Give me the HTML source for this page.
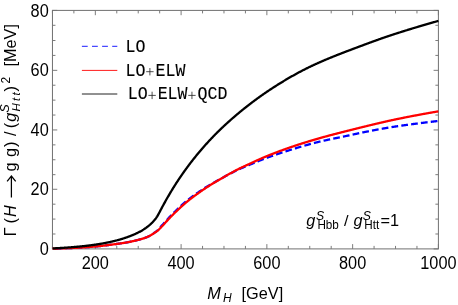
<!DOCTYPE html>
<html><head><meta charset="utf-8"><title>plot</title>
<style>
html,body{margin:0;padding:0;background:#fff;}
body{width:458px;height:305px;overflow:hidden;}
svg{display:block;will-change:transform;}
text{font-family:"Liberation Sans",sans-serif;fill:#000;}
.tl{font-size:15px;}
.mono{font-family:"Liberation Mono",monospace;}
</style></head><body>
<svg width="458" height="305" viewBox="0 0 458 305">
<rect width="458" height="305" fill="#fff"/>
<defs><clipPath id="c"><rect x="52.45" y="10.4" width="387.05" height="240.0"/></clipPath></defs>
<g stroke="#707070" stroke-width="1" fill="none">
<rect x="52.45" y="10.4" width="385.95" height="238.5"/>
</g>
<g stroke="#757575" stroke-width="0.95" fill="none">
<path d="M52.45,248.9 v-3.0 M52.45,10.4 v3.0"/>
<path d="M73.89,248.9 v-3.0 M73.89,10.4 v3.0"/>
<path d="M95.33,248.9 v-4.8 M95.33,10.4 v4.8"/>
<path d="M116.78,248.9 v-3.0 M116.78,10.4 v3.0"/>
<path d="M138.22,248.9 v-3.0 M138.22,10.4 v3.0"/>
<path d="M159.66,248.9 v-3.0 M159.66,10.4 v3.0"/>
<path d="M181.10,248.9 v-4.8 M181.10,10.4 v4.8"/>
<path d="M202.54,248.9 v-3.0 M202.54,10.4 v3.0"/>
<path d="M223.98,248.9 v-3.0 M223.98,10.4 v3.0"/>
<path d="M245.43,248.9 v-3.0 M245.43,10.4 v3.0"/>
<path d="M266.87,248.9 v-4.8 M266.87,10.4 v4.8"/>
<path d="M288.31,248.9 v-3.0 M288.31,10.4 v3.0"/>
<path d="M309.75,248.9 v-3.0 M309.75,10.4 v3.0"/>
<path d="M331.19,248.9 v-3.0 M331.19,10.4 v3.0"/>
<path d="M352.63,248.9 v-4.8 M352.63,10.4 v4.8"/>
<path d="M374.07,248.9 v-3.0 M374.07,10.4 v3.0"/>
<path d="M395.52,248.9 v-3.0 M395.52,10.4 v3.0"/>
<path d="M416.96,248.9 v-3.0 M416.96,10.4 v3.0"/>
<path d="M438.40,248.9 v-4.8 M438.40,10.4 v4.8"/>
<path d="M52.45,248.90 h4.8 M438.4,248.90 h-4.8"/>
<path d="M52.45,233.99 h3.0 M438.4,233.99 h-3.0"/>
<path d="M52.45,219.09 h3.0 M438.4,219.09 h-3.0"/>
<path d="M52.45,204.18 h3.0 M438.4,204.18 h-3.0"/>
<path d="M52.45,189.28 h4.8 M438.4,189.28 h-4.8"/>
<path d="M52.45,174.67 h3.0 M438.4,174.67 h-3.0"/>
<path d="M52.45,159.76 h3.0 M438.4,159.76 h-3.0"/>
<path d="M52.45,144.86 h3.0 M438.4,144.86 h-3.0"/>
<path d="M52.45,129.95 h4.8 M438.4,129.95 h-4.8"/>
<path d="M52.45,115.04 h3.0 M438.4,115.04 h-3.0"/>
<path d="M52.45,100.14 h3.0 M438.4,100.14 h-3.0"/>
<path d="M52.45,85.23 h3.0 M438.4,85.23 h-3.0"/>
<path d="M52.45,70.33 h4.8 M438.4,70.33 h-4.8"/>
<path d="M52.45,55.42 h3.0 M438.4,55.42 h-3.0"/>
<path d="M52.45,40.51 h3.0 M438.4,40.51 h-3.0"/>
<path d="M52.45,25.31 h3.0 M438.4,25.31 h-3.0"/>
<path d="M52.45,10.40 h4.8 M438.4,10.40 h-4.8"/>
</g>
<g clip-path="url(#c)" fill="none" stroke-linejoin="round">
<path d="M52.45,248.60 L52.88,248.60 L53.31,248.59 L53.74,248.58 L54.17,248.57 L54.59,248.56 L55.02,248.55 L55.45,248.54 L55.88,248.53 L56.31,248.52 L56.74,248.51 L57.17,248.50 L57.60,248.49 L58.02,248.48 L58.45,248.47 L58.88,248.46 L59.31,248.44 L59.74,248.43 L60.17,248.42 L60.60,248.41 L61.03,248.40 L61.46,248.38 L61.88,248.37 L62.31,248.36 L62.74,248.34 L63.17,248.33 L63.60,248.32 L64.03,248.30 L64.46,248.29 L64.89,248.27 L65.31,248.26 L65.74,248.25 L66.17,248.23 L66.60,248.22 L67.03,248.20 L67.46,248.18 L67.89,248.17 L68.32,248.15 L68.75,248.13 L69.17,248.12 L69.60,248.10 L70.03,248.08 L70.46,248.07 L70.89,248.05 L71.32,248.03 L71.75,248.01 L72.18,247.99 L72.61,247.97 L73.03,247.96 L73.46,247.94 L73.89,247.92 L74.32,247.90 L74.75,247.88 L75.18,247.86 L75.61,247.83 L76.04,247.81 L76.46,247.79 L76.89,247.77 L77.32,247.75 L77.75,247.73 L78.18,247.70 L78.61,247.68 L79.04,247.66 L79.47,247.63 L79.90,247.61 L80.32,247.58 L80.75,247.56 L81.18,247.53 L81.61,247.51 L82.04,247.48 L82.47,247.46 L82.90,247.43 L83.33,247.40 L83.75,247.38 L84.18,247.35 L84.61,247.32 L85.04,247.29 L85.47,247.26 L85.90,247.23 L86.33,247.21 L86.76,247.18 L87.19,247.15 L87.61,247.11 L88.04,247.08 L88.47,247.05 L88.90,247.02 L89.33,246.99 L89.76,246.96 L90.19,246.92 L90.62,246.89 L91.05,246.86 L91.47,246.82 L91.90,246.79 L92.33,246.75 L92.76,246.72 L93.19,246.68 L93.62,246.64 L94.05,246.61 L94.48,246.57 L94.90,246.53 L95.33,246.49 L95.76,246.45 L96.19,246.41 L96.62,246.37 L97.05,246.33 L97.48,246.29 L97.91,246.25 L98.34,246.21 L98.76,246.17 L99.19,246.12 L99.62,246.08 L100.05,246.04 L100.48,245.99 L100.91,245.95 L101.34,245.90 L101.77,245.85 L102.19,245.81 L102.62,245.76 L103.05,245.71 L103.48,245.66 L103.91,245.61 L104.34,245.56 L104.77,245.51 L105.20,245.46 L105.63,245.41 L106.05,245.36 L106.48,245.30 L106.91,245.25 L107.34,245.20 L107.77,245.14 L108.20,245.09 L108.63,245.03 L109.06,244.97 L109.48,244.91 L109.91,244.86 L110.34,244.80 L110.77,244.74 L111.20,244.68 L111.63,244.62 L112.06,244.56 L112.49,244.51 L112.92,244.45 L113.34,244.39 L113.77,244.34 L114.20,244.28 L114.63,244.22 L115.06,244.17 L115.49,244.11 L115.92,244.05 L116.35,243.99 L116.78,243.94 L117.20,243.88 L117.63,243.82 L118.06,243.76 L118.49,243.70 L118.92,243.64 L119.35,243.58 L119.78,243.52 L120.21,243.46 L120.63,243.40 L121.06,243.34 L121.49,243.27 L121.92,243.21 L122.35,243.15 L122.78,243.08 L123.21,243.01 L123.64,242.94 L124.07,242.88 L124.49,242.81 L124.92,242.73 L125.35,242.66 L125.78,242.59 L126.21,242.51 L126.64,242.43 L127.07,242.36 L127.50,242.28 L127.92,242.19 L128.35,242.11 L128.78,242.03 L129.21,241.94 L129.64,241.86 L130.07,241.77 L130.50,241.68 L130.93,241.59 L131.36,241.50 L131.78,241.41 L132.21,241.32 L132.64,241.22 L133.07,241.13 L133.50,241.03 L133.93,240.93 L134.36,240.84 L134.79,240.74 L135.21,240.63 L135.64,240.53 L136.07,240.43 L136.50,240.32 L136.93,240.21 L137.36,240.11 L137.79,240.00 L138.22,239.88 L138.65,239.77 L139.07,239.66 L139.50,239.55 L139.93,239.44 L140.36,239.33 L140.79,239.22 L141.22,239.10 L141.65,238.97 L142.08,238.84 L142.50,238.71 L142.93,238.58 L143.36,238.44 L143.79,238.30 L144.22,238.15 L144.65,238.00 L145.08,237.85 L145.51,237.69 L145.94,237.52 L146.36,237.34 L146.79,237.16 L147.22,236.97 L147.65,236.78 L148.08,236.59 L148.51,236.38 L148.94,236.18 L149.37,235.96 L149.80,235.74 L150.22,235.51 L150.65,235.27 L151.08,235.03 L151.51,234.77 L151.94,234.50 L152.37,234.22 L152.80,233.93 L153.23,233.63 L153.65,233.32 L154.08,233.00 L154.51,232.69 L154.94,232.38 L155.37,232.07 L155.80,231.76 L156.23,231.42 L156.66,231.09 L157.09,230.74 L157.51,230.37 L157.94,229.96 L158.37,229.52 L158.80,229.04 L159.23,228.55 L159.66,228.05 L160.09,227.55 L160.52,227.05 L160.94,226.55 L161.37,226.07 L161.80,225.61 L162.23,225.16 L162.66,224.71 L163.09,224.25 L163.52,223.78 L163.95,223.30 L164.38,222.81 L164.80,222.32 L165.23,221.83 L165.66,221.34 L166.09,220.86 L166.52,220.38 L166.95,219.90 L167.38,219.42 L167.81,218.95 L168.24,218.48 L168.66,218.02 L169.09,217.56 L169.52,217.10 L169.95,216.65 L170.38,216.20 L170.81,215.76 L171.24,215.31 L171.67,214.87 L172.09,214.44 L172.52,214.00 L172.95,213.57 L173.38,213.14 L173.81,212.71 L174.24,212.29 L174.67,211.87 L175.10,211.45 L175.53,211.04 L175.95,210.62 L176.38,210.21 L176.81,209.80 L177.24,209.39 L177.67,208.98 L178.10,208.58 L178.53,208.17 L178.96,207.76 L179.38,207.36 L179.81,206.96 L180.24,206.56 L180.67,206.16 L181.10,205.76 L181.53,205.36 L181.96,204.97 L182.39,204.59 L182.82,204.20 L183.24,203.82 L183.67,203.45 L184.10,203.08 L184.53,202.71 L184.96,202.35 L185.39,201.99 L185.82,201.64 L186.25,201.28 L186.67,200.93 L187.10,200.59 L187.53,200.24 L187.96,199.90 L188.39,199.56 L188.82,199.22 L189.25,198.89 L189.68,198.55 L190.11,198.22 L190.53,197.90 L190.96,197.57 L191.39,197.25 L191.82,196.93 L192.25,196.61 L192.68,196.30 L193.11,195.99 L193.54,195.68 L193.96,195.37 L194.39,195.06 L194.82,194.76 L195.25,194.46 L195.68,194.16 L196.11,193.86 L196.54,193.56 L196.97,193.27 L197.40,192.97 L197.82,192.68 L198.25,192.38 L198.68,192.09 L199.11,191.80 L199.54,191.50 L199.97,191.21 L200.40,190.92 L200.83,190.63 L201.26,190.34 L201.68,190.05 L202.11,189.76 L202.54,189.47 L202.97,189.18 L203.40,188.90 L203.83,188.61 L204.26,188.33 L204.69,188.06 L205.11,187.78 L205.54,187.51 L205.97,187.24 L206.40,186.97 L206.83,186.70 L207.26,186.44 L207.69,186.17 L208.12,185.91 L208.55,185.65 L208.97,185.39 L209.40,185.13 L209.83,184.88 L210.26,184.62 L210.69,184.37 L211.12,184.12 L211.55,183.87 L211.98,183.62 L212.40,183.38 L212.83,183.13 L213.26,182.88 L213.69,182.64 L214.12,182.40 L214.55,182.16 L214.98,181.92 L215.41,181.68 L215.84,181.44 L216.26,181.20 L216.69,180.96 L217.12,180.72 L217.55,180.49 L217.98,180.25 L218.41,180.02 L218.84,179.78 L219.27,179.55 L219.69,179.31 L220.12,179.08 L220.55,178.85 L220.98,178.61 L221.41,178.38 L221.84,178.15 L222.27,177.91 L222.70,177.68 L223.13,177.45 L223.55,177.21 L223.98,176.98 L224.41,176.74 L224.84,176.51 L225.27,176.28 L225.70,176.04 L226.13,175.81 L226.56,175.58 L226.99,175.35 L227.41,175.12 L227.84,174.88 L228.27,174.66 L228.70,174.43 L229.13,174.20 L229.56,173.97 L229.99,173.75 L230.42,173.52 L230.84,173.30 L231.27,173.07 L231.70,172.85 L232.13,172.63 L232.56,172.41 L232.99,172.19 L233.42,171.97 L233.85,171.76 L234.28,171.54 L234.70,171.33 L235.13,171.12 L235.56,170.90 L235.99,170.69 L236.42,170.49 L236.85,170.28 L237.28,170.07 L237.71,169.87 L238.13,169.67 L238.56,169.47 L238.99,169.27 L239.42,169.08 L239.85,168.88 L240.28,168.69 L240.71,168.50 L241.14,168.31 L241.57,168.12 L241.99,167.93 L242.42,167.75 L242.85,167.57 L243.28,167.38 L243.71,167.20 L244.14,167.02 L244.57,166.85 L245.00,166.67 L245.43,166.49 L245.85,166.32 L246.28,166.14 L246.71,165.96 L247.14,165.79 L247.57,165.61 L248.00,165.43 L248.43,165.26 L248.86,165.08 L249.28,164.90 L249.71,164.72 L250.14,164.54 L250.57,164.36 L251.00,164.18 L251.43,164.00 L251.86,163.82 L252.29,163.64 L252.72,163.46 L253.14,163.28 L253.57,163.10 L254.00,162.92 L254.43,162.74 L254.86,162.56 L255.29,162.39 L255.72,162.21 L256.15,162.03 L256.57,161.85 L257.00,161.67 L257.43,161.50 L257.86,161.32 L258.29,161.14 L258.72,160.97 L259.15,160.79 L259.58,160.62 L260.01,160.45 L260.43,160.27 L260.86,160.10 L261.29,159.93 L261.72,159.76 L262.15,159.59 L262.58,159.42 L263.01,159.25 L263.44,159.08 L263.86,158.92 L264.29,158.75 L264.72,158.59 L265.15,158.43 L265.58,158.26 L266.01,158.10 L266.44,157.95 L266.87,157.79 L267.30,157.63 L267.72,157.48 L268.15,157.32 L268.58,157.17 L269.01,157.01 L269.44,156.86 L269.87,156.70 L270.30,156.55 L270.73,156.40 L271.16,156.25 L271.58,156.10 L272.01,155.95 L272.44,155.80 L272.87,155.65 L273.30,155.50 L273.73,155.35 L274.16,155.20 L274.59,155.05 L275.01,154.91 L275.44,154.76 L275.87,154.61 L276.30,154.47 L276.73,154.32 L277.16,154.18 L277.59,154.03 L278.02,153.89 L278.45,153.74 L278.87,153.60 L279.30,153.46 L279.73,153.31 L280.16,153.17 L280.59,153.03 L281.02,152.89 L281.45,152.74 L281.88,152.60 L282.30,152.46 L282.73,152.32 L283.16,152.18 L283.59,152.05 L284.02,151.91 L284.45,151.77 L284.88,151.63 L285.31,151.49 L285.74,151.36 L286.16,151.22 L286.59,151.08 L287.02,150.95 L287.45,150.81 L287.88,150.68 L288.31,150.54 L288.74,150.41 L289.17,150.27 L289.59,150.14 L290.02,150.01 L290.45,149.87 L290.88,149.74 L291.31,149.61 L291.74,149.47 L292.17,149.34 L292.60,149.21 L293.03,149.08 L293.45,148.95 L293.88,148.81 L294.31,148.68 L294.74,148.55 L295.17,148.42 L295.60,148.29 L296.03,148.16 L296.46,148.03 L296.88,147.90 L297.31,147.77 L297.74,147.64 L298.17,147.51 L298.60,147.39 L299.03,147.26 L299.46,147.13 L299.89,147.00 L300.32,146.88 L300.74,146.75 L301.17,146.62 L301.60,146.50 L302.03,146.37 L302.46,146.25 L302.89,146.12 L303.32,146.00 L303.75,145.87 L304.18,145.75 L304.60,145.63 L305.03,145.51 L305.46,145.38 L305.89,145.26 L306.32,145.14 L306.75,145.02 L307.18,144.90 L307.61,144.78 L308.03,144.66 L308.46,144.54 L308.89,144.42 L309.32,144.30 L309.75,144.19 L310.18,144.07 L310.61,143.95 L311.04,143.84 L311.47,143.72 L311.89,143.61 L312.32,143.49 L312.75,143.38 L313.18,143.26 L313.61,143.15 L314.04,143.04 L314.47,142.93 L314.90,142.82 L315.32,142.71 L315.75,142.60 L316.18,142.49 L316.61,142.38 L317.04,142.27 L317.47,142.17 L317.90,142.06 L318.33,141.96 L318.76,141.85 L319.18,141.75 L319.61,141.65 L320.04,141.55 L320.47,141.45 L320.90,141.35 L321.33,141.25 L321.76,141.15 L322.19,141.05 L322.62,140.95 L323.04,140.86 L323.47,140.76 L323.90,140.67 L324.33,140.57 L324.76,140.48 L325.19,140.38 L325.62,140.29 L326.05,140.20 L326.47,140.10 L326.90,140.01 L327.33,139.92 L327.76,139.83 L328.19,139.74 L328.62,139.65 L329.05,139.56 L329.48,139.47 L329.91,139.38 L330.33,139.29 L330.76,139.20 L331.19,139.11 L331.62,139.02 L332.05,138.93 L332.48,138.84 L332.91,138.75 L333.34,138.67 L333.76,138.58 L334.19,138.49 L334.62,138.40 L335.05,138.31 L335.48,138.22 L335.91,138.14 L336.34,138.05 L336.77,137.96 L337.20,137.87 L337.62,137.78 L338.05,137.69 L338.48,137.61 L338.91,137.52 L339.34,137.43 L339.77,137.34 L340.20,137.25 L340.63,137.16 L341.05,137.07 L341.48,136.98 L341.91,136.89 L342.34,136.80 L342.77,136.71 L343.20,136.62 L343.63,136.52 L344.06,136.43 L344.49,136.34 L344.91,136.25 L345.34,136.16 L345.77,136.07 L346.20,135.98 L346.63,135.88 L347.06,135.79 L347.49,135.70 L347.92,135.61 L348.34,135.51 L348.77,135.42 L349.20,135.33 L349.63,135.24 L350.06,135.14 L350.49,135.05 L350.92,134.96 L351.35,134.87 L351.78,134.77 L352.20,134.68 L352.63,134.59 L353.06,134.50 L353.49,134.40 L353.92,134.31 L354.35,134.22 L354.78,134.12 L355.21,134.03 L355.64,133.94 L356.06,133.85 L356.49,133.76 L356.92,133.66 L357.35,133.57 L357.78,133.48 L358.21,133.39 L358.64,133.30 L359.07,133.20 L359.49,133.11 L359.92,133.02 L360.35,132.93 L360.78,132.84 L361.21,132.75 L361.64,132.66 L362.07,132.57 L362.50,132.48 L362.93,132.39 L363.35,132.30 L363.78,132.22 L364.21,132.13 L364.64,132.04 L365.07,131.95 L365.50,131.87 L365.93,131.78 L366.36,131.69 L366.78,131.61 L367.21,131.52 L367.64,131.44 L368.07,131.35 L368.50,131.27 L368.93,131.19 L369.36,131.10 L369.79,131.02 L370.22,130.94 L370.64,130.85 L371.07,130.77 L371.50,130.69 L371.93,130.61 L372.36,130.52 L372.79,130.44 L373.22,130.36 L373.65,130.28 L374.07,130.20 L374.50,130.12 L374.93,130.04 L375.36,129.96 L375.79,129.88 L376.22,129.80 L376.65,129.72 L377.08,129.64 L377.51,129.56 L377.93,129.48 L378.36,129.40 L378.79,129.32 L379.22,129.25 L379.65,129.17 L380.08,129.09 L380.51,129.01 L380.94,128.94 L381.37,128.86 L381.79,128.78 L382.22,128.71 L382.65,128.63 L383.08,128.56 L383.51,128.48 L383.94,128.41 L384.37,128.33 L384.80,128.26 L385.22,128.18 L385.65,128.11 L386.08,128.04 L386.51,127.96 L386.94,127.89 L387.37,127.82 L387.80,127.74 L388.23,127.67 L388.66,127.60 L389.08,127.53 L389.51,127.46 L389.94,127.39 L390.37,127.32 L390.80,127.25 L391.23,127.18 L391.66,127.11 L392.09,127.04 L392.51,126.97 L392.94,126.90 L393.37,126.83 L393.80,126.77 L394.23,126.70 L394.66,126.63 L395.09,126.57 L395.52,126.50 L395.95,126.44 L396.37,126.37 L396.80,126.31 L397.23,126.25 L397.66,126.18 L398.09,126.12 L398.52,126.06 L398.95,126.00 L399.38,125.93 L399.81,125.87 L400.23,125.81 L400.66,125.75 L401.09,125.69 L401.52,125.63 L401.95,125.57 L402.38,125.51 L402.81,125.45 L403.24,125.39 L403.66,125.33 L404.09,125.27 L404.52,125.21 L404.95,125.15 L405.38,125.09 L405.81,125.03 L406.24,124.97 L406.67,124.92 L407.10,124.86 L407.52,124.80 L407.95,124.74 L408.38,124.68 L408.81,124.63 L409.24,124.57 L409.67,124.51 L410.10,124.45 L410.53,124.40 L410.95,124.34 L411.38,124.28 L411.81,124.23 L412.24,124.17 L412.67,124.11 L413.10,124.06 L413.53,124.00 L413.96,123.94 L414.39,123.89 L414.81,123.83 L415.24,123.78 L415.67,123.72 L416.10,123.66 L416.53,123.61 L416.96,123.55 L417.39,123.50 L417.82,123.44 L418.24,123.39 L418.67,123.33 L419.10,123.28 L419.53,123.22 L419.96,123.17 L420.39,123.11 L420.82,123.06 L421.25,123.00 L421.68,122.95 L422.10,122.90 L422.53,122.84 L422.96,122.79 L423.39,122.74 L423.82,122.68 L424.25,122.63 L424.68,122.58 L425.11,122.52 L425.53,122.47 L425.96,122.42 L426.39,122.37 L426.82,122.31 L427.25,122.26 L427.68,122.21 L428.11,122.16 L428.54,122.11 L428.97,122.06 L429.39,122.00 L429.82,121.95 L430.25,121.90 L430.68,121.85 L431.11,121.80 L431.54,121.75 L431.97,121.70 L432.40,121.65 L432.83,121.60 L433.25,121.55 L433.68,121.50 L434.11,121.45 L434.54,121.40 L434.97,121.35 L435.40,121.30 L435.83,121.25 L436.26,121.20 L436.68,121.15 L437.11,121.11 L437.54,121.06 L437.97,121.01 L438.40,120.96" stroke="#0000ff" stroke-width="2.3" stroke-dasharray="6.73 3.17" stroke-dashoffset="6.61"/>
<path d="M52.45,248.60 L52.88,248.60 L53.31,248.59 L53.74,248.58 L54.17,248.57 L54.59,248.56 L55.02,248.55 L55.45,248.54 L55.88,248.53 L56.31,248.52 L56.74,248.51 L57.17,248.50 L57.60,248.49 L58.02,248.48 L58.45,248.47 L58.88,248.46 L59.31,248.44 L59.74,248.43 L60.17,248.42 L60.60,248.41 L61.03,248.40 L61.46,248.38 L61.88,248.37 L62.31,248.36 L62.74,248.34 L63.17,248.33 L63.60,248.32 L64.03,248.30 L64.46,248.29 L64.89,248.27 L65.31,248.26 L65.74,248.25 L66.17,248.23 L66.60,248.22 L67.03,248.20 L67.46,248.18 L67.89,248.17 L68.32,248.15 L68.75,248.13 L69.17,248.12 L69.60,248.10 L70.03,248.08 L70.46,248.07 L70.89,248.05 L71.32,248.03 L71.75,248.01 L72.18,247.99 L72.61,247.97 L73.03,247.96 L73.46,247.94 L73.89,247.92 L74.32,247.90 L74.75,247.88 L75.18,247.86 L75.61,247.83 L76.04,247.81 L76.46,247.79 L76.89,247.77 L77.32,247.75 L77.75,247.73 L78.18,247.70 L78.61,247.68 L79.04,247.66 L79.47,247.63 L79.90,247.61 L80.32,247.58 L80.75,247.56 L81.18,247.53 L81.61,247.51 L82.04,247.48 L82.47,247.46 L82.90,247.43 L83.33,247.40 L83.75,247.38 L84.18,247.35 L84.61,247.32 L85.04,247.29 L85.47,247.26 L85.90,247.23 L86.33,247.21 L86.76,247.18 L87.19,247.15 L87.61,247.11 L88.04,247.08 L88.47,247.05 L88.90,247.02 L89.33,246.99 L89.76,246.96 L90.19,246.92 L90.62,246.89 L91.05,246.86 L91.47,246.82 L91.90,246.79 L92.33,246.75 L92.76,246.72 L93.19,246.68 L93.62,246.64 L94.05,246.61 L94.48,246.57 L94.90,246.53 L95.33,246.49 L95.76,246.45 L96.19,246.41 L96.62,246.37 L97.05,246.33 L97.48,246.29 L97.91,246.25 L98.34,246.21 L98.76,246.17 L99.19,246.12 L99.62,246.08 L100.05,246.04 L100.48,245.99 L100.91,245.95 L101.34,245.90 L101.77,245.85 L102.19,245.81 L102.62,245.76 L103.05,245.71 L103.48,245.66 L103.91,245.61 L104.34,245.56 L104.77,245.51 L105.20,245.46 L105.63,245.41 L106.05,245.36 L106.48,245.30 L106.91,245.25 L107.34,245.20 L107.77,245.14 L108.20,245.09 L108.63,245.03 L109.06,244.97 L109.48,244.91 L109.91,244.86 L110.34,244.80 L110.77,244.74 L111.20,244.68 L111.63,244.62 L112.06,244.56 L112.49,244.51 L112.92,244.45 L113.34,244.39 L113.77,244.34 L114.20,244.28 L114.63,244.22 L115.06,244.17 L115.49,244.11 L115.92,244.05 L116.35,243.99 L116.78,243.94 L117.20,243.88 L117.63,243.82 L118.06,243.76 L118.49,243.70 L118.92,243.64 L119.35,243.58 L119.78,243.52 L120.21,243.46 L120.63,243.40 L121.06,243.34 L121.49,243.27 L121.92,243.21 L122.35,243.15 L122.78,243.08 L123.21,243.01 L123.64,242.94 L124.07,242.88 L124.49,242.81 L124.92,242.73 L125.35,242.66 L125.78,242.59 L126.21,242.51 L126.64,242.43 L127.07,242.36 L127.50,242.28 L127.92,242.19 L128.35,242.11 L128.78,242.03 L129.21,241.94 L129.64,241.86 L130.07,241.77 L130.50,241.68 L130.93,241.59 L131.36,241.50 L131.78,241.41 L132.21,241.32 L132.64,241.22 L133.07,241.13 L133.50,241.03 L133.93,240.93 L134.36,240.84 L134.79,240.74 L135.21,240.63 L135.64,240.53 L136.07,240.43 L136.50,240.32 L136.93,240.21 L137.36,240.11 L137.79,240.00 L138.22,239.88 L138.65,239.77 L139.07,239.66 L139.50,239.55 L139.93,239.44 L140.36,239.33 L140.79,239.22 L141.22,239.10 L141.65,238.97 L142.08,238.84 L142.50,238.71 L142.93,238.58 L143.36,238.44 L143.79,238.30 L144.22,238.15 L144.65,238.00 L145.08,237.85 L145.51,237.69 L145.94,237.52 L146.36,237.34 L146.79,237.16 L147.22,236.97 L147.65,236.78 L148.08,236.59 L148.51,236.38 L148.94,236.18 L149.37,235.96 L149.80,235.74 L150.22,235.51 L150.65,235.27 L151.08,235.03 L151.51,234.77 L151.94,234.51 L152.37,234.25 L152.80,233.98 L153.23,233.70 L153.65,233.41 L154.08,233.11 L154.51,232.83 L154.94,232.55 L155.37,232.28 L155.80,231.99 L156.23,231.69 L156.66,231.39 L157.09,231.08 L157.51,230.75 L157.94,230.40 L158.37,230.02 L158.80,229.61 L159.23,229.18 L159.66,228.75 L160.09,228.30 L160.52,227.86 L160.94,227.40 L161.37,226.96 L161.80,226.51 L162.23,226.07 L162.66,225.63 L163.09,225.18 L163.52,224.72 L163.95,224.25 L164.38,223.76 L164.80,223.28 L165.23,222.80 L165.66,222.32 L166.09,221.84 L166.52,221.37 L166.95,220.89 L167.38,220.43 L167.81,219.96 L168.24,219.50 L168.66,219.04 L169.09,218.59 L169.52,218.14 L169.95,217.69 L170.38,217.25 L170.81,216.80 L171.24,216.37 L171.67,215.93 L172.09,215.50 L172.52,215.07 L172.95,214.64 L173.38,214.21 L173.81,213.79 L174.24,213.37 L174.67,212.95 L175.10,212.54 L175.53,212.12 L175.95,211.71 L176.38,211.30 L176.81,210.89 L177.24,210.49 L177.67,210.08 L178.10,209.67 L178.53,209.27 L178.96,208.86 L179.38,208.46 L179.81,208.06 L180.24,207.65 L180.67,207.26 L181.10,206.86 L181.53,206.46 L181.96,206.07 L182.39,205.68 L182.82,205.30 L183.24,204.92 L183.67,204.54 L184.10,204.17 L184.53,203.80 L184.96,203.43 L185.39,203.07 L185.82,202.71 L186.25,202.35 L186.67,201.99 L187.10,201.64 L187.53,201.28 L187.96,200.94 L188.39,200.59 L188.82,200.24 L189.25,199.90 L189.68,199.56 L190.11,199.22 L190.53,198.89 L190.96,198.55 L191.39,198.22 L191.82,197.89 L192.25,197.57 L192.68,197.24 L193.11,196.92 L193.54,196.60 L193.96,196.28 L194.39,195.97 L194.82,195.65 L195.25,195.34 L195.68,195.03 L196.11,194.72 L196.54,194.41 L196.97,194.10 L197.40,193.80 L197.82,193.49 L198.25,193.19 L198.68,192.88 L199.11,192.58 L199.54,192.28 L199.97,191.97 L200.40,191.67 L200.83,191.37 L201.26,191.07 L201.68,190.77 L202.11,190.47 L202.54,190.17 L202.97,189.87 L203.40,189.58 L203.83,189.28 L204.26,188.99 L204.69,188.70 L205.11,188.42 L205.54,188.14 L205.97,187.85 L206.40,187.57 L206.83,187.30 L207.26,187.02 L207.69,186.74 L208.12,186.47 L208.55,186.20 L208.97,185.93 L209.40,185.66 L209.83,185.39 L210.26,185.13 L210.69,184.86 L211.12,184.60 L211.55,184.34 L211.98,184.08 L212.40,183.82 L212.83,183.56 L213.26,183.30 L213.69,183.04 L214.12,182.79 L214.55,182.53 L214.98,182.28 L215.41,182.03 L215.84,181.77 L216.26,181.52 L216.69,181.27 L217.12,181.02 L217.55,180.77 L217.98,180.52 L218.41,180.27 L218.84,180.02 L219.27,179.77 L219.69,179.53 L220.12,179.28 L220.55,179.03 L220.98,178.78 L221.41,178.54 L221.84,178.29 L222.27,178.04 L222.70,177.80 L223.13,177.55 L223.55,177.30 L223.98,177.05 L224.41,176.80 L224.84,176.55 L225.27,176.31 L225.70,176.06 L226.13,175.81 L226.56,175.56 L226.99,175.32 L227.41,175.07 L227.84,174.83 L228.27,174.58 L228.70,174.34 L229.13,174.09 L229.56,173.85 L229.99,173.61 L230.42,173.37 L230.84,173.13 L231.27,172.89 L231.70,172.65 L232.13,172.41 L232.56,172.18 L232.99,171.94 L233.42,171.71 L233.85,171.47 L234.28,171.24 L234.70,171.01 L235.13,170.78 L235.56,170.55 L235.99,170.33 L236.42,170.10 L236.85,169.88 L237.28,169.66 L237.71,169.44 L238.13,169.22 L238.56,169.00 L238.99,168.78 L239.42,168.57 L239.85,168.36 L240.28,168.14 L240.71,167.94 L241.14,167.73 L241.57,167.52 L241.99,167.32 L242.42,167.12 L242.85,166.92 L243.28,166.72 L243.71,166.52 L244.14,166.32 L244.57,166.12 L245.00,165.93 L245.43,165.73 L245.85,165.54 L246.28,165.34 L246.71,165.15 L247.14,164.95 L247.57,164.76 L248.00,164.56 L248.43,164.37 L248.86,164.17 L249.28,163.97 L249.71,163.77 L250.14,163.58 L250.57,163.38 L251.00,163.18 L251.43,162.98 L251.86,162.78 L252.29,162.58 L252.72,162.38 L253.14,162.19 L253.57,161.99 L254.00,161.79 L254.43,161.59 L254.86,161.40 L255.29,161.20 L255.72,161.00 L256.15,160.80 L256.57,160.61 L257.00,160.41 L257.43,160.22 L257.86,160.02 L258.29,159.83 L258.72,159.64 L259.15,159.44 L259.58,159.25 L260.01,159.06 L260.43,158.87 L260.86,158.68 L261.29,158.49 L261.72,158.30 L262.15,158.11 L262.58,157.92 L263.01,157.74 L263.44,157.55 L263.86,157.37 L264.29,157.19 L264.72,157.01 L265.15,156.83 L265.58,156.65 L266.01,156.47 L266.44,156.29 L266.87,156.12 L267.30,155.94 L267.72,155.77 L268.15,155.60 L268.58,155.43 L269.01,155.25 L269.44,155.08 L269.87,154.91 L270.30,154.74 L270.73,154.57 L271.16,154.40 L271.58,154.23 L272.01,154.06 L272.44,153.90 L272.87,153.73 L273.30,153.56 L273.73,153.39 L274.16,153.23 L274.59,153.06 L275.01,152.90 L275.44,152.73 L275.87,152.57 L276.30,152.40 L276.73,152.24 L277.16,152.08 L277.59,151.92 L278.02,151.75 L278.45,151.59 L278.87,151.43 L279.30,151.27 L279.73,151.11 L280.16,150.95 L280.59,150.79 L281.02,150.63 L281.45,150.47 L281.88,150.32 L282.30,150.16 L282.73,150.00 L283.16,149.85 L283.59,149.69 L284.02,149.54 L284.45,149.38 L284.88,149.23 L285.31,149.07 L285.74,148.92 L286.16,148.77 L286.59,148.62 L287.02,148.47 L287.45,148.31 L287.88,148.16 L288.31,148.01 L288.74,147.86 L289.17,147.72 L289.59,147.57 L290.02,147.42 L290.45,147.27 L290.88,147.13 L291.31,146.98 L291.74,146.83 L292.17,146.69 L292.60,146.54 L293.03,146.40 L293.45,146.25 L293.88,146.11 L294.31,145.97 L294.74,145.82 L295.17,145.68 L295.60,145.54 L296.03,145.40 L296.46,145.26 L296.88,145.12 L297.31,144.98 L297.74,144.84 L298.17,144.70 L298.60,144.56 L299.03,144.42 L299.46,144.28 L299.89,144.14 L300.32,144.01 L300.74,143.87 L301.17,143.73 L301.60,143.60 L302.03,143.46 L302.46,143.32 L302.89,143.19 L303.32,143.05 L303.75,142.92 L304.18,142.79 L304.60,142.65 L305.03,142.52 L305.46,142.39 L305.89,142.25 L306.32,142.12 L306.75,141.99 L307.18,141.86 L307.61,141.73 L308.03,141.60 L308.46,141.47 L308.89,141.34 L309.32,141.21 L309.75,141.08 L310.18,140.95 L310.61,140.82 L311.04,140.69 L311.47,140.56 L311.89,140.43 L312.32,140.31 L312.75,140.18 L313.18,140.05 L313.61,139.92 L314.04,139.80 L314.47,139.67 L314.90,139.55 L315.32,139.42 L315.75,139.30 L316.18,139.17 L316.61,139.05 L317.04,138.92 L317.47,138.80 L317.90,138.68 L318.33,138.55 L318.76,138.43 L319.18,138.31 L319.61,138.19 L320.04,138.07 L320.47,137.94 L320.90,137.82 L321.33,137.70 L321.76,137.58 L322.19,137.46 L322.62,137.34 L323.04,137.22 L323.47,137.10 L323.90,136.98 L324.33,136.86 L324.76,136.75 L325.19,136.63 L325.62,136.51 L326.05,136.39 L326.47,136.28 L326.90,136.16 L327.33,136.04 L327.76,135.93 L328.19,135.81 L328.62,135.69 L329.05,135.58 L329.48,135.46 L329.91,135.35 L330.33,135.23 L330.76,135.12 L331.19,135.00 L331.62,134.89 L332.05,134.78 L332.48,134.66 L332.91,134.55 L333.34,134.44 L333.76,134.33 L334.19,134.21 L334.62,134.10 L335.05,133.99 L335.48,133.88 L335.91,133.77 L336.34,133.66 L336.77,133.54 L337.20,133.43 L337.62,133.32 L338.05,133.21 L338.48,133.10 L338.91,133.00 L339.34,132.89 L339.77,132.78 L340.20,132.67 L340.63,132.56 L341.05,132.45 L341.48,132.34 L341.91,132.23 L342.34,132.13 L342.77,132.02 L343.20,131.91 L343.63,131.80 L344.06,131.69 L344.49,131.59 L344.91,131.48 L345.34,131.37 L345.77,131.26 L346.20,131.15 L346.63,131.05 L347.06,130.94 L347.49,130.83 L347.92,130.72 L348.34,130.62 L348.77,130.51 L349.20,130.40 L349.63,130.29 L350.06,130.19 L350.49,130.08 L350.92,129.97 L351.35,129.87 L351.78,129.76 L352.20,129.65 L352.63,129.54 L353.06,129.44 L353.49,129.33 L353.92,129.22 L354.35,129.12 L354.78,129.01 L355.21,128.90 L355.64,128.79 L356.06,128.69 L356.49,128.58 L356.92,128.47 L357.35,128.37 L357.78,128.26 L358.21,128.15 L358.64,128.05 L359.07,127.94 L359.49,127.83 L359.92,127.73 L360.35,127.62 L360.78,127.51 L361.21,127.41 L361.64,127.30 L362.07,127.19 L362.50,127.09 L362.93,126.98 L363.35,126.88 L363.78,126.77 L364.21,126.67 L364.64,126.56 L365.07,126.45 L365.50,126.35 L365.93,126.24 L366.36,126.14 L366.78,126.03 L367.21,125.93 L367.64,125.82 L368.07,125.72 L368.50,125.62 L368.93,125.51 L369.36,125.41 L369.79,125.31 L370.22,125.20 L370.64,125.10 L371.07,125.00 L371.50,124.89 L371.93,124.79 L372.36,124.69 L372.79,124.58 L373.22,124.48 L373.65,124.38 L374.07,124.27 L374.50,124.17 L374.93,124.07 L375.36,123.97 L375.79,123.87 L376.22,123.76 L376.65,123.66 L377.08,123.56 L377.51,123.46 L377.93,123.36 L378.36,123.26 L378.79,123.16 L379.22,123.06 L379.65,122.95 L380.08,122.85 L380.51,122.75 L380.94,122.65 L381.37,122.55 L381.79,122.45 L382.22,122.36 L382.65,122.26 L383.08,122.16 L383.51,122.06 L383.94,121.96 L384.37,121.86 L384.80,121.76 L385.22,121.67 L385.65,121.57 L386.08,121.47 L386.51,121.37 L386.94,121.28 L387.37,121.18 L387.80,121.09 L388.23,120.99 L388.66,120.89 L389.08,120.80 L389.51,120.70 L389.94,120.61 L390.37,120.52 L390.80,120.42 L391.23,120.33 L391.66,120.23 L392.09,120.14 L392.51,120.05 L392.94,119.96 L393.37,119.86 L393.80,119.77 L394.23,119.68 L394.66,119.59 L395.09,119.50 L395.52,119.41 L395.95,119.32 L396.37,119.23 L396.80,119.14 L397.23,119.05 L397.66,118.96 L398.09,118.88 L398.52,118.79 L398.95,118.70 L399.38,118.61 L399.81,118.53 L400.23,118.44 L400.66,118.35 L401.09,118.27 L401.52,118.18 L401.95,118.09 L402.38,118.01 L402.81,117.92 L403.24,117.83 L403.66,117.75 L404.09,117.66 L404.52,117.58 L404.95,117.49 L405.38,117.41 L405.81,117.32 L406.24,117.24 L406.67,117.15 L407.10,117.07 L407.52,116.99 L407.95,116.90 L408.38,116.82 L408.81,116.74 L409.24,116.65 L409.67,116.57 L410.10,116.49 L410.53,116.40 L410.95,116.32 L411.38,116.24 L411.81,116.15 L412.24,116.07 L412.67,115.99 L413.10,115.91 L413.53,115.83 L413.96,115.74 L414.39,115.66 L414.81,115.58 L415.24,115.50 L415.67,115.42 L416.10,115.34 L416.53,115.26 L416.96,115.18 L417.39,115.10 L417.82,115.02 L418.24,114.94 L418.67,114.86 L419.10,114.78 L419.53,114.70 L419.96,114.62 L420.39,114.54 L420.82,114.46 L421.25,114.38 L421.68,114.30 L422.10,114.22 L422.53,114.15 L422.96,114.07 L423.39,113.99 L423.82,113.91 L424.25,113.83 L424.68,113.76 L425.11,113.68 L425.53,113.60 L425.96,113.53 L426.39,113.45 L426.82,113.37 L427.25,113.29 L427.68,113.22 L428.11,113.14 L428.54,113.07 L428.97,112.99 L429.39,112.91 L429.82,112.84 L430.25,112.76 L430.68,112.69 L431.11,112.61 L431.54,112.54 L431.97,112.46 L432.40,112.39 L432.83,112.31 L433.25,112.24 L433.68,112.17 L434.11,112.09 L434.54,112.02 L434.97,111.94 L435.40,111.87 L435.83,111.80 L436.26,111.72 L436.68,111.65 L437.11,111.58 L437.54,111.51 L437.97,111.43 L438.40,111.36" stroke="#ff0000" stroke-width="2.3"/>
<path d="M52.45,248.42 L52.88,248.39 L53.31,248.37 L53.74,248.35 L54.17,248.33 L54.59,248.31 L55.02,248.29 L55.45,248.27 L55.88,248.24 L56.31,248.22 L56.74,248.20 L57.17,248.17 L57.60,248.15 L58.02,248.13 L58.45,248.10 L58.88,248.08 L59.31,248.05 L59.74,248.03 L60.17,248.00 L60.60,247.98 L61.03,247.95 L61.46,247.93 L61.88,247.90 L62.31,247.88 L62.74,247.85 L63.17,247.82 L63.60,247.79 L64.03,247.77 L64.46,247.74 L64.89,247.71 L65.31,247.68 L65.74,247.65 L66.17,247.62 L66.60,247.59 L67.03,247.56 L67.46,247.53 L67.89,247.50 L68.32,247.47 L68.75,247.44 L69.17,247.41 L69.60,247.38 L70.03,247.34 L70.46,247.31 L70.89,247.28 L71.32,247.24 L71.75,247.21 L72.18,247.18 L72.61,247.14 L73.03,247.11 L73.46,247.07 L73.89,247.04 L74.32,247.00 L74.75,246.96 L75.18,246.93 L75.61,246.89 L76.04,246.85 L76.46,246.81 L76.89,246.77 L77.32,246.73 L77.75,246.69 L78.18,246.65 L78.61,246.61 L79.04,246.57 L79.47,246.53 L79.90,246.49 L80.32,246.45 L80.75,246.40 L81.18,246.36 L81.61,246.32 L82.04,246.27 L82.47,246.23 L82.90,246.18 L83.33,246.14 L83.75,246.09 L84.18,246.04 L84.61,246.00 L85.04,245.95 L85.47,245.90 L85.90,245.85 L86.33,245.80 L86.76,245.75 L87.19,245.70 L87.61,245.65 L88.04,245.60 L88.47,245.55 L88.90,245.49 L89.33,245.44 L89.76,245.39 L90.19,245.33 L90.62,245.28 L91.05,245.22 L91.47,245.16 L91.90,245.11 L92.33,245.05 L92.76,244.99 L93.19,244.93 L93.62,244.87 L94.05,244.81 L94.48,244.75 L94.90,244.69 L95.33,244.62 L95.76,244.56 L96.19,244.50 L96.62,244.43 L97.05,244.37 L97.48,244.30 L97.91,244.23 L98.34,244.17 L98.76,244.10 L99.19,244.03 L99.62,243.96 L100.05,243.89 L100.48,243.82 L100.91,243.74 L101.34,243.67 L101.77,243.60 L102.19,243.52 L102.62,243.45 L103.05,243.37 L103.48,243.29 L103.91,243.21 L104.34,243.13 L104.77,243.05 L105.20,242.97 L105.63,242.89 L106.05,242.81 L106.48,242.72 L106.91,242.64 L107.34,242.55 L107.77,242.46 L108.20,242.38 L108.63,242.29 L109.06,242.20 L109.48,242.11 L109.91,242.01 L110.34,241.92 L110.77,241.83 L111.20,241.73 L111.63,241.63 L112.06,241.54 L112.49,241.44 L112.92,241.34 L113.34,241.23 L113.77,241.13 L114.20,241.03 L114.63,240.92 L115.06,240.82 L115.49,240.71 L115.92,240.60 L116.35,240.49 L116.78,240.38 L117.20,240.26 L117.63,240.15 L118.06,240.03 L118.49,239.91 L118.92,239.80 L119.35,239.68 L119.78,239.55 L120.21,239.43 L120.63,239.30 L121.06,239.18 L121.49,239.05 L121.92,238.92 L122.35,238.79 L122.78,238.65 L123.21,238.52 L123.64,238.38 L124.07,238.24 L124.49,238.10 L124.92,237.96 L125.35,237.81 L125.78,237.67 L126.21,237.52 L126.64,237.37 L127.07,237.22 L127.50,237.06 L127.92,236.91 L128.35,236.75 L128.78,236.59 L129.21,236.43 L129.64,236.26 L130.07,236.10 L130.50,235.93 L130.93,235.76 L131.36,235.59 L131.78,235.42 L132.21,235.24 L132.64,235.07 L133.07,234.89 L133.50,234.71 L133.93,234.52 L134.36,234.34 L134.79,234.15 L135.21,233.95 L135.64,233.76 L136.07,233.56 L136.50,233.36 L136.93,233.16 L137.36,232.95 L137.79,232.74 L138.22,232.52 L138.65,232.30 L139.07,232.08 L139.50,231.86 L139.93,231.63 L140.36,231.39 L140.79,231.16 L141.22,230.91 L141.65,230.67 L142.08,230.41 L142.50,230.16 L142.93,229.89 L143.36,229.63 L143.79,229.35 L144.22,229.08 L144.65,228.79 L145.08,228.50 L145.51,228.20 L145.94,227.90 L146.36,227.59 L146.79,227.27 L147.22,226.95 L147.65,226.62 L148.08,226.28 L148.51,225.94 L148.94,225.59 L149.37,225.22 L149.80,224.86 L150.22,224.48 L150.65,224.09 L151.08,223.70 L151.51,223.29 L151.94,222.87 L152.37,222.44 L152.80,222.00 L153.23,221.54 L153.65,221.07 L154.08,220.59 L154.51,220.08 L154.94,219.56 L155.37,219.01 L155.80,218.44 L156.23,217.84 L156.66,217.21 L157.09,216.55 L157.51,215.85 L157.94,215.11 L158.37,214.35 L158.80,213.56 L159.23,212.76 L159.66,211.95 L160.09,211.13 L160.52,210.31 L160.94,209.49 L161.37,208.68 L161.80,207.87 L162.23,207.07 L162.66,206.27 L163.09,205.48 L163.52,204.69 L163.95,203.90 L164.38,203.12 L164.80,202.35 L165.23,201.58 L165.66,200.81 L166.09,200.05 L166.52,199.29 L166.95,198.53 L167.38,197.78 L167.81,197.04 L168.24,196.30 L168.66,195.56 L169.09,194.83 L169.52,194.10 L169.95,193.37 L170.38,192.65 L170.81,191.94 L171.24,191.22 L171.67,190.52 L172.09,189.81 L172.52,189.11 L172.95,188.41 L173.38,187.72 L173.81,187.03 L174.24,186.35 L174.67,185.67 L175.10,184.99 L175.53,184.32 L175.95,183.65 L176.38,182.99 L176.81,182.33 L177.24,181.67 L177.67,181.02 L178.10,180.37 L178.53,179.72 L178.96,179.08 L179.38,178.44 L179.81,177.80 L180.24,177.17 L180.67,176.54 L181.10,175.91 L181.53,175.29 L181.96,174.67 L182.39,174.05 L182.82,173.44 L183.24,172.83 L183.67,172.22 L184.10,171.62 L184.53,171.02 L184.96,170.42 L185.39,169.83 L185.82,169.24 L186.25,168.65 L186.67,168.06 L187.10,167.48 L187.53,166.90 L187.96,166.32 L188.39,165.75 L188.82,165.17 L189.25,164.61 L189.68,164.04 L190.11,163.48 L190.53,162.91 L190.96,162.36 L191.39,161.80 L191.82,161.25 L192.25,160.70 L192.68,160.15 L193.11,159.61 L193.54,159.06 L193.96,158.52 L194.39,157.98 L194.82,157.45 L195.25,156.92 L195.68,156.39 L196.11,155.86 L196.54,155.33 L196.97,154.81 L197.40,154.29 L197.82,153.77 L198.25,153.25 L198.68,152.74 L199.11,152.23 L199.54,151.72 L199.97,151.21 L200.40,150.70 L200.83,150.20 L201.26,149.70 L201.68,149.20 L202.11,148.70 L202.54,148.21 L202.97,147.72 L203.40,147.23 L203.83,146.74 L204.26,146.25 L204.69,145.77 L205.11,145.29 L205.54,144.81 L205.97,144.33 L206.40,143.86 L206.83,143.38 L207.26,142.91 L207.69,142.44 L208.12,141.97 L208.55,141.51 L208.97,141.05 L209.40,140.58 L209.83,140.12 L210.26,139.67 L210.69,139.21 L211.12,138.76 L211.55,138.31 L211.98,137.86 L212.40,137.41 L212.83,136.96 L213.26,136.52 L213.69,136.07 L214.12,135.63 L214.55,135.20 L214.98,134.76 L215.41,134.32 L215.84,133.89 L216.26,133.46 L216.69,133.03 L217.12,132.60 L217.55,132.18 L217.98,131.75 L218.41,131.33 L218.84,130.91 L219.27,130.49 L219.69,130.07 L220.12,129.66 L220.55,129.24 L220.98,128.83 L221.41,128.42 L221.84,128.01 L222.27,127.60 L222.70,127.20 L223.13,126.80 L223.55,126.39 L223.98,125.99 L224.41,125.60 L224.84,125.20 L225.27,124.80 L225.70,124.41 L226.13,124.01 L226.56,123.62 L226.99,123.23 L227.41,122.84 L227.84,122.45 L228.27,122.07 L228.70,121.68 L229.13,121.29 L229.56,120.91 L229.99,120.53 L230.42,120.15 L230.84,119.77 L231.27,119.39 L231.70,119.01 L232.13,118.64 L232.56,118.26 L232.99,117.89 L233.42,117.52 L233.85,117.15 L234.28,116.78 L234.70,116.41 L235.13,116.04 L235.56,115.68 L235.99,115.31 L236.42,114.95 L236.85,114.59 L237.28,114.23 L237.71,113.87 L238.13,113.51 L238.56,113.15 L238.99,112.79 L239.42,112.44 L239.85,112.08 L240.28,111.73 L240.71,111.38 L241.14,111.03 L241.57,110.68 L241.99,110.33 L242.42,109.98 L242.85,109.63 L243.28,109.29 L243.71,108.94 L244.14,108.60 L244.57,108.26 L245.00,107.92 L245.43,107.58 L245.85,107.24 L246.28,106.90 L246.71,106.56 L247.14,106.23 L247.57,105.89 L248.00,105.56 L248.43,105.23 L248.86,104.89 L249.28,104.56 L249.71,104.23 L250.14,103.90 L250.57,103.57 L251.00,103.25 L251.43,102.92 L251.86,102.60 L252.29,102.27 L252.72,101.95 L253.14,101.63 L253.57,101.30 L254.00,100.98 L254.43,100.66 L254.86,100.35 L255.29,100.03 L255.72,99.71 L256.15,99.39 L256.57,99.08 L257.00,98.77 L257.43,98.45 L257.86,98.14 L258.29,97.83 L258.72,97.52 L259.15,97.21 L259.58,96.90 L260.01,96.59 L260.43,96.29 L260.86,95.98 L261.29,95.68 L261.72,95.37 L262.15,95.07 L262.58,94.77 L263.01,94.47 L263.44,94.17 L263.86,93.87 L264.29,93.58 L264.72,93.28 L265.15,92.99 L265.58,92.69 L266.01,92.40 L266.44,92.11 L266.87,91.82 L267.30,91.53 L267.72,91.24 L268.15,90.96 L268.58,90.67 L269.01,90.39 L269.44,90.10 L269.87,89.82 L270.30,89.53 L270.73,89.25 L271.16,88.97 L271.58,88.69 L272.01,88.41 L272.44,88.13 L272.87,87.85 L273.30,87.57 L273.73,87.30 L274.16,87.02 L274.59,86.74 L275.01,86.47 L275.44,86.20 L275.87,85.92 L276.30,85.65 L276.73,85.38 L277.16,85.11 L277.59,84.84 L278.02,84.57 L278.45,84.30 L278.87,84.03 L279.30,83.76 L279.73,83.50 L280.16,83.23 L280.59,82.97 L281.02,82.70 L281.45,82.44 L281.88,82.18 L282.30,81.92 L282.73,81.66 L283.16,81.40 L283.59,81.14 L284.02,80.88 L284.45,80.62 L284.88,80.36 L285.31,80.11 L285.74,79.85 L286.16,79.60 L286.59,79.34 L287.02,79.09 L287.45,78.84 L287.88,78.59 L288.31,78.34 L288.74,78.09 L289.17,77.84 L289.59,77.59 L290.02,77.34 L290.45,77.10 L290.88,76.85 L291.31,76.61 L291.74,76.36 L292.17,76.12 L292.60,75.88 L293.03,75.63 L293.45,75.39 L293.88,75.15 L294.31,74.91 L294.74,74.67 L295.17,74.44 L295.60,74.20 L296.03,73.96 L296.46,73.73 L296.88,73.50 L297.31,73.26 L297.74,73.03 L298.17,72.80 L298.60,72.57 L299.03,72.34 L299.46,72.11 L299.89,71.88 L300.32,71.65 L300.74,71.43 L301.17,71.20 L301.60,70.98 L302.03,70.75 L302.46,70.53 L302.89,70.31 L303.32,70.09 L303.75,69.87 L304.18,69.65 L304.60,69.43 L305.03,69.21 L305.46,68.99 L305.89,68.78 L306.32,68.56 L306.75,68.35 L307.18,68.14 L307.61,67.93 L308.03,67.71 L308.46,67.51 L308.89,67.30 L309.32,67.09 L309.75,66.88 L310.18,66.68 L310.61,66.47 L311.04,66.27 L311.47,66.06 L311.89,65.86 L312.32,65.66 L312.75,65.46 L313.18,65.25 L313.61,65.05 L314.04,64.86 L314.47,64.66 L314.90,64.46 L315.32,64.26 L315.75,64.07 L316.18,63.87 L316.61,63.68 L317.04,63.48 L317.47,63.29 L317.90,63.10 L318.33,62.90 L318.76,62.71 L319.18,62.52 L319.61,62.33 L320.04,62.14 L320.47,61.95 L320.90,61.77 L321.33,61.58 L321.76,61.39 L322.19,61.21 L322.62,61.02 L323.04,60.83 L323.47,60.65 L323.90,60.47 L324.33,60.28 L324.76,60.10 L325.19,59.92 L325.62,59.74 L326.05,59.56 L326.47,59.38 L326.90,59.20 L327.33,59.02 L327.76,58.84 L328.19,58.66 L328.62,58.49 L329.05,58.31 L329.48,58.13 L329.91,57.96 L330.33,57.78 L330.76,57.61 L331.19,57.43 L331.62,57.26 L332.05,57.08 L332.48,56.91 L332.91,56.74 L333.34,56.56 L333.76,56.39 L334.19,56.22 L334.62,56.05 L335.05,55.88 L335.48,55.70 L335.91,55.53 L336.34,55.36 L336.77,55.19 L337.20,55.02 L337.62,54.85 L338.05,54.68 L338.48,54.52 L338.91,54.35 L339.34,54.18 L339.77,54.01 L340.20,53.84 L340.63,53.68 L341.05,53.51 L341.48,53.34 L341.91,53.17 L342.34,53.01 L342.77,52.84 L343.20,52.68 L343.63,52.51 L344.06,52.35 L344.49,52.18 L344.91,52.02 L345.34,51.85 L345.77,51.69 L346.20,51.52 L346.63,51.36 L347.06,51.19 L347.49,51.03 L347.92,50.87 L348.34,50.71 L348.77,50.54 L349.20,50.38 L349.63,50.22 L350.06,50.06 L350.49,49.89 L350.92,49.73 L351.35,49.57 L351.78,49.41 L352.20,49.25 L352.63,49.09 L353.06,48.93 L353.49,48.77 L353.92,48.60 L354.35,48.44 L354.78,48.28 L355.21,48.12 L355.64,47.96 L356.06,47.80 L356.49,47.64 L356.92,47.48 L357.35,47.32 L357.78,47.16 L358.21,47.00 L358.64,46.83 L359.07,46.67 L359.49,46.51 L359.92,46.35 L360.35,46.19 L360.78,46.03 L361.21,45.87 L361.64,45.71 L362.07,45.55 L362.50,45.39 L362.93,45.23 L363.35,45.07 L363.78,44.91 L364.21,44.75 L364.64,44.59 L365.07,44.43 L365.50,44.28 L365.93,44.12 L366.36,43.96 L366.78,43.80 L367.21,43.64 L367.64,43.48 L368.07,43.32 L368.50,43.16 L368.93,43.01 L369.36,42.85 L369.79,42.69 L370.22,42.53 L370.64,42.38 L371.07,42.22 L371.50,42.06 L371.93,41.90 L372.36,41.75 L372.79,41.59 L373.22,41.44 L373.65,41.28 L374.07,41.12 L374.50,40.97 L374.93,40.81 L375.36,40.66 L375.79,40.50 L376.22,40.35 L376.65,40.19 L377.08,40.04 L377.51,39.89 L377.93,39.73 L378.36,39.58 L378.79,39.43 L379.22,39.27 L379.65,39.12 L380.08,38.97 L380.51,38.82 L380.94,38.67 L381.37,38.52 L381.79,38.36 L382.22,38.21 L382.65,38.06 L383.08,37.91 L383.51,37.76 L383.94,37.62 L384.37,37.47 L384.80,37.32 L385.22,37.17 L385.65,37.02 L386.08,36.88 L386.51,36.73 L386.94,36.58 L387.37,36.44 L387.80,36.29 L388.23,36.15 L388.66,36.00 L389.08,35.86 L389.51,35.72 L389.94,35.57 L390.37,35.43 L390.80,35.29 L391.23,35.14 L391.66,35.00 L392.09,34.86 L392.51,34.72 L392.94,34.58 L393.37,34.44 L393.80,34.30 L394.23,34.16 L394.66,34.02 L395.09,33.88 L395.52,33.75 L395.95,33.61 L396.37,33.47 L396.80,33.33 L397.23,33.20 L397.66,33.06 L398.09,32.92 L398.52,32.79 L398.95,32.65 L399.38,32.51 L399.81,32.38 L400.23,32.24 L400.66,32.11 L401.09,31.97 L401.52,31.84 L401.95,31.70 L402.38,31.57 L402.81,31.43 L403.24,31.30 L403.66,31.16 L404.09,31.03 L404.52,30.90 L404.95,30.76 L405.38,30.63 L405.81,30.50 L406.24,30.36 L406.67,30.23 L407.10,30.10 L407.52,29.96 L407.95,29.83 L408.38,29.70 L408.81,29.57 L409.24,29.44 L409.67,29.31 L410.10,29.17 L410.53,29.04 L410.95,28.91 L411.38,28.78 L411.81,28.65 L412.24,28.52 L412.67,28.39 L413.10,28.26 L413.53,28.13 L413.96,28.01 L414.39,27.88 L414.81,27.75 L415.24,27.62 L415.67,27.49 L416.10,27.36 L416.53,27.24 L416.96,27.11 L417.39,26.98 L417.82,26.85 L418.24,26.73 L418.67,26.60 L419.10,26.47 L419.53,26.35 L419.96,26.22 L420.39,26.09 L420.82,25.96 L421.25,25.84 L421.68,25.71 L422.10,25.59 L422.53,25.46 L422.96,25.33 L423.39,25.21 L423.82,25.08 L424.25,24.96 L424.68,24.83 L425.11,24.70 L425.53,24.58 L425.96,24.45 L426.39,24.33 L426.82,24.20 L427.25,24.08 L427.68,23.95 L428.11,23.83 L428.54,23.71 L428.97,23.58 L429.39,23.46 L429.82,23.33 L430.25,23.21 L430.68,23.09 L431.11,22.96 L431.54,22.84 L431.97,22.72 L432.40,22.60 L432.83,22.47 L433.25,22.35 L433.68,22.23 L434.11,22.11 L434.54,21.98 L434.97,21.86 L435.40,21.74 L435.83,21.62 L436.26,21.50 L436.68,21.38 L437.11,21.26 L437.54,21.14 L437.97,21.02 L438.40,20.90" stroke="#000" stroke-width="2.3"/>
</g>
<text transform="translate(48.70,254.90) scale(1.0,1.075)" font-size="16.3" text-anchor="end">0</text>
<text transform="translate(48.70,195.28) scale(1.0,1.075)" font-size="16.3" text-anchor="end">20</text>
<text transform="translate(48.70,136.00) scale(1.0,1.075)" font-size="16.3" text-anchor="end">40</text>
<text transform="translate(48.70,76.38) scale(1.0,1.075)" font-size="16.3" text-anchor="end">60</text>
<text transform="translate(48.70,16.85) scale(1.0,1.075)" font-size="16.3" text-anchor="end">80</text>
<text transform="translate(95.33,269.40) scale(1.0,1.075)" font-size="16.3" text-anchor="middle">200</text>
<text transform="translate(181.10,269.40) scale(1.0,1.075)" font-size="16.3" text-anchor="middle">400</text>
<text transform="translate(266.87,269.40) scale(1.0,1.075)" font-size="16.3" text-anchor="middle">600</text>
<text transform="translate(352.63,269.40) scale(1.0,1.075)" font-size="16.3" text-anchor="middle">800</text>
<text transform="translate(438.40,269.40) scale(1.0,1.075)" font-size="16.3" text-anchor="middle">1000</text>
<text transform="translate(207.20,299.00) scale(1.0,1.0)" font-size="16.3" text-anchor="start" font-style="italic">M</text>
<text transform="translate(223.00,301.60) scale(1.0,1.0)" font-size="12" text-anchor="start" font-style="italic">H</text>
<text transform="translate(241.60,299.00) scale(1.0,1.0)" font-size="16.3" text-anchor="start">[GeV]</text>
<g transform="rotate(-90)"><text transform="translate(-236.20,15.70) scale(1.0,1.0)" font-size="16.3" text-anchor="start">Γ</text>
<text transform="translate(-223.60,15.70) scale(1.0,1.0)" font-size="16.3" text-anchor="start">(</text>
<text transform="translate(-217.00,15.70) scale(1.0,1.0)" font-size="16.3" text-anchor="start" font-style="italic">H</text>
<path d="M-197.6,-4.3 H-176.6 M-181.4,-8.6 L-176.0,-4.3 L-181.4,0" transform="translate(0,15.7)" stroke="#000" stroke-width="1.25" fill="none" stroke-linejoin="miter"/>
<text transform="translate(-171.60,15.70) scale(1.0,1.0)" font-size="16.3" text-anchor="start">g</text>
<text transform="translate(-157.00,15.70) scale(1.0,1.0)" font-size="16.3" text-anchor="start">g</text>
<text transform="translate(-147.00,15.70) scale(1.0,1.0)" font-size="16.3" text-anchor="start">)</text>
<text transform="translate(-136.00,15.70) scale(1.0,1.0)" font-size="16.3" text-anchor="start">/</text>
<text transform="translate(-128.20,15.70) scale(1.0,1.0)" font-size="16.3" text-anchor="start">(</text>
<text transform="translate(-121.80,15.70) scale(1.0,1.0)" font-size="16.3" text-anchor="start" font-style="italic">g</text>
<text transform="translate(-112.60,9.30) scale(1.0,1.0)" font-size="12.2" text-anchor="start" font-style="italic">S</text>
<text transform="translate(-111.60,19.80) scale(1.0,1.0)" font-size="11.5" text-anchor="start" font-style="italic" letter-spacing="2.3">Htt</text>
<text transform="translate(-91.40,15.70) scale(1.0,1.0)" font-size="16.3" text-anchor="start">)</text>
<text transform="translate(-83.40,9.80) scale(1.0,1.0)" font-size="12" text-anchor="start">2</text>
<text transform="translate(-66.60,15.70) scale(1.0,1.0)" font-size="16.3" text-anchor="start">[MeV]</text></g>
<path d="M81.9,46.3 H117.3" stroke="#0000ff" stroke-width="0.9" stroke-dasharray="5.8 4.3" fill="none"/>
<path d="M81.9,70.4 H117.3" stroke="#ff0000" stroke-width="0.9" fill="none"/>
<path d="M81.9,94.0 H117.3" stroke="#222" stroke-width="1.0" fill="none"/>
<text transform="translate(125.60,51.50) scale(1.0,1.08)" font-size="16.6" text-anchor="start" class="mono" stroke="#000" stroke-width="0.12">LO</text>
<text transform="translate(125.60,75.60) scale(1.0,1.08)" font-size="16.6" text-anchor="start" class="mono" stroke="#000" stroke-width="0.12">LO ELW</text>
<path d="M146.20,71.70 H153.60 M149.90,68.00 V75.40" stroke="#222" stroke-width="0.8" fill="none"/>
<text transform="translate(127.80,99.30) scale(1.0,1.08)" font-size="16.6" text-anchor="start" class="mono" stroke="#000" stroke-width="0.12">LO ELW QCD</text>
<path d="M148.40,95.40 H155.80 M152.10,91.70 V99.10" stroke="#222" stroke-width="0.8" fill="none"/>
<path d="M188.24,95.40 H195.64 M191.94,91.70 V99.10" stroke="#222" stroke-width="0.8" fill="none"/>
<text transform="translate(306.30,225.60) scale(1.0,1.0)" font-size="16.3" text-anchor="start" font-style="italic">g</text>
<text transform="translate(315.90,219.90) scale(1.0,1.0)" font-size="12.2" text-anchor="start" font-style="italic">S</text>
<text transform="translate(317.40,229.00) scale(1.0,1.06)" font-size="11.7" text-anchor="start">Hbb</text>
<text transform="translate(344.00,225.60) scale(1.0,0.95)" font-size="16.3" text-anchor="start">/</text>
<text transform="translate(353.40,225.60) scale(1.0,1.0)" font-size="16.3" text-anchor="start" font-style="italic">g</text>
<text transform="translate(362.70,219.90) scale(1.0,1.0)" font-size="12.2" text-anchor="start" font-style="italic">S</text>
<text transform="translate(364.20,229.00) scale(1.0,1.06)" font-size="11.7" text-anchor="start">Htt</text>
<text transform="translate(380.60,225.60) scale(1.0,1.0)" font-size="16.3" text-anchor="start">=1</text>
</svg>
</body></html>
